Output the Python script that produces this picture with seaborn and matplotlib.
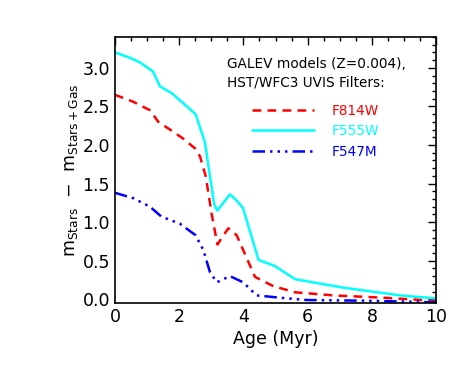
import matplotlib
matplotlib.use("Agg")
import matplotlib.pyplot as plt
import seaborn as sns
import pandas as pd
from matplotlib.ticker import MultipleLocator

age_f555w = [0.0, 0.47, 0.78, 1.19, 1.40, 1.77, 2.13, 2.51, 2.80, 2.96, 3.09, 3.19, 3.58, 3.79, 3.99, 4.47, 4.98, 5.61, 7.11, 8.88, 10.0]
val_f555w = [3.20, 3.13, 3.07, 2.95, 2.76, 2.67, 2.54, 2.40, 2.04, 1.59, 1.23, 1.15, 1.36, 1.28, 1.18, 0.51, 0.43, 0.26, 0.15, 0.05, 0.01]

age_f814w = [0.0, 0.57, 1.09, 1.35, 1.82, 2.13, 2.51, 2.65, 2.83, 3.01, 3.19, 3.53, 3.79, 3.99, 4.36, 4.93, 5.61, 6.80, 8.36, 10.0]
val_f814w = [2.65, 2.56, 2.45, 2.30, 2.17, 2.08, 1.95, 1.85, 1.59, 1.11, 0.71, 0.92, 0.83, 0.64, 0.29, 0.17, 0.09, 0.05, 0.02, -0.02]

age_f547m = [0.0, 0.57, 1.09, 1.45, 2.02, 2.51, 2.75, 2.96, 3.17, 3.58, 3.99, 4.41, 5.14, 5.97, 8.0, 10.0]
val_f547m = [1.38, 1.31, 1.20, 1.07, 0.98, 0.83, 0.64, 0.35, 0.22, 0.30, 0.22, 0.05, 0.02, -0.01, -0.02, -0.04]

sns.set_style("white")
plt.rcParams['font.family'] = ['DejaVu Sans']
plt.rcParams['text.color'] = 'black'
plt.rcParams['axes.labelcolor'] = 'black'

fig = plt.figure(figsize=(4.71, 3.77), dpi=100)
ax = fig.add_axes([0.244, 0.196, 0.682, 0.706])

series = [
    ("F814W", age_f814w, val_f814w, "#FF0000", (3.5, 2.5)),
    ("F555W", age_f555w, val_f555w, "#00FFFF", None),
    ("F547M", age_f547m, val_f547m, "#0000FF", (5, 2, 1, 2, 1, 2, 1, 2)),
]
for name, x, y, col, dash in series:
    df = pd.DataFrame({"age": x, "val": y})
    sns.lineplot(data=df, x="age", y="val", ax=ax, color=col, lw=1.8,
                 label=name, sort=False)
    line = ax.get_lines()[-1]
    if dash is not None:
        line.set_dashes(dash)

ax.set_xlim(0, 10)
ax.set_ylim(-0.05, 3.4)
ax.xaxis.set_major_locator(MultipleLocator(2))
ax.xaxis.set_minor_locator(MultipleLocator(0.5))
ax.yaxis.set_minor_locator(MultipleLocator(0.1))
ax.set_yticks([0, 0.5, 1.0, 1.5, 2.0, 2.5, 3.0])
ax.set_yticklabels(["0.0", "0.5", "1.0", "1.5", "2.0", "2.5", "3.0"])
ax.tick_params(which="both", direction="in", top=True, right=True,
               labelsize=12.5, color="black", labelcolor="black", width=1)
ax.tick_params(which="major", length=6)
ax.tick_params(which="minor", length=3)
for s in ax.spines.values():
    s.set_color("black")
    s.set_linewidth(1.2)

ax.set_xlabel("Age (Myr)", fontsize=12.5, labelpad=3)
ax.set_ylabel(r"m$_{\rm Stars}$  $-$  m$_{\rm Stars+Gas}$", fontsize=12.5, labelpad=2)

ax.text(0.35, 0.925, "GALEV models (Z=0.004),\nHST/WFC3 UVIS Filters:",
        transform=ax.transAxes, fontsize=9.8, va="top", ha="left", linespacing=1.45)

leg = ax.legend(loc="upper left", bbox_to_anchor=(0.388, 0.795), frameon=False,
                handlelength=4.6, fontsize=9.8, labelspacing=0.47, handletextpad=1.25,
                borderpad=0.4)
for txt, (_, _, _, col, _) in zip(leg.get_texts(), series):
    txt.set_color(col)

fig.savefig("out.png", dpi=100)
